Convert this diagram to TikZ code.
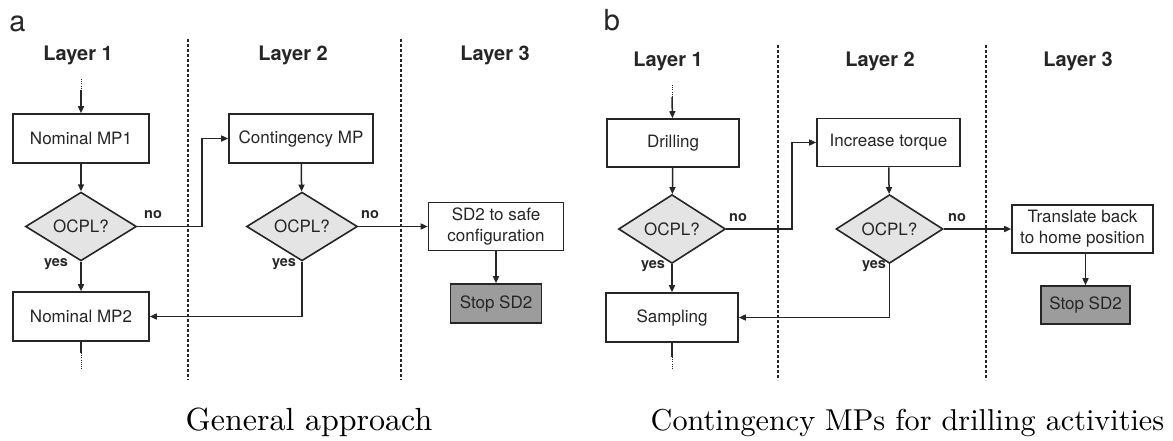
\documentclass[tikz,border=0pt]{standalone}
\usepackage{fontspec}
\newfontfamily\hv{TeX Gyre Heros}
\newfontfamily\capfont{lmroman10-regular}[Extension=.otf]
\usetikzlibrary{shapes.geometric,arrows.meta}
\definecolor{ink}{HTML}{262626}
\definecolor{dgray}{HTML}{E4E4E4}
\definecolor{sgray}{HTML}{9C9C9C}
\begin{document}
\begin{tikzpicture}[x=1pt,y=-1pt,
  every node/.style={text=ink},
  box/.style={draw=ink,line width=1.6pt,fill=white,inner sep=0pt,font=\hv\fontsize{17}{21}\selectfont,align=center},
  dec/.style={draw=ink,line width=1.6pt,fill=dgray,diamond,inner sep=0pt,font=\hv\fontsize{17}{21}\selectfont},
  stopbox/.style={box,fill=sgray},
  head/.style={font=\hv\bfseries\fontsize{20}{24}\selectfont},
  lab/.style={font=\hv\bfseries\fontsize{14.5}{17}\selectfont},
  panel/.style={font=\hv\fontsize{29}{33}\selectfont},
  captext/.style={font=\capfont\fontsize{32}{36}\selectfont,anchor=base,text=black},
  conn/.style={draw=ink,line width=1.5pt,-{Triangle[length=7pt,width=6pt]}},
  plain/.style={draw=ink,line width=1.5pt},
  fine/.style={draw=ink,line width=1pt,dash pattern=on 1pt off 1.2pt},
  sep/.style={draw=ink,line width=1.6pt,dash pattern=on 2.5pt off 2.5pt}]
\useasboundingbox (0,0) rectangle (1173,440);

% ---------------- panel a ----------------
\node[panel] (pa) at (17.5,23.5) {a};
\node[head] (la1) at (78,55) {Layer 1};
\node[head] (la2) at (293,55) {Layer 2};
\node[head] (la3) at (495,55) {Layer 3};
\coordinate (sa1t) at (188,39); \coordinate (sa1b) at (188,380);
\coordinate (sa2t) at (401,39); \coordinate (sa2b) at (401,380);
\draw[sep] (sa1t) -- (sa1b);
\draw[sep] (sa2t) -- (sa2b);

\node[box,minimum width=136pt,minimum height=49pt] (n1) at (81,138.5) {Nominal MP1};
\node[box,minimum width=144pt,minimum height=49pt] (c1) at (301,138.5) {Contingency MP};
\node[dec,minimum width=111pt,minimum height=60pt] (d1) at (81,226.5) {OCPL?};
\node[dec,minimum width=111pt,minimum height=60pt] (d2) at (302,226.5) {OCPL?};
\node[box,minimum width=136pt,minimum height=49pt] (n2) at (81,316.5) {Nominal MP2};
\node[box,minimum width=135pt,minimum height=48pt] (s1) at (496,226.5) {SD2 to safe\\configuration};
\node[stopbox,minimum width=91pt,minimum height=39pt] (st1) at (496,303.5) {Stop SD2};

\coordinate (ia0) at (81,79); \coordinate (ia1) at (81,90);
\draw[fine] (ia0) -- (ia1);
\draw[conn] (ia1) -- (n1);
\draw[conn] (n1) -- (d1);
\coordinate (ka) at (202,226.5);
\draw[conn] (d1.east) -- (ka) |- (c1.west);
\node[lab] (noa1) at (153,215) {no};
\draw[conn] (d1) -- (n2);
\node[lab] (yesa1) at (56,264) {yes};
\draw[conn] (c1) -- (d2);
\draw[conn] (d2) -- (s1);
\node[lab] (noa2) at (370,215) {no};
\draw[conn] (d2.south) |- (n2.east);
\node[lab] (yesa2) at (284,264) {yes};
\draw[conn] (s1) -- (st1);
\coordinate (oa1) at (81,353); \coordinate (oa2) at (81,370);
\draw[plain] (n2.south) -- (oa1);
\draw[fine] (oa1) -- (oa2);

\node[captext] (capa) at (309,430) {General approach};

% ---------------- panel b ----------------
\node[panel] (pb) at (612,20) {b};
\node[head] (lb1) at (668,61) {Layer 1};
\node[head] (lb2) at (880,61) {Layer 2};
\node[head] (lb3) at (1078,61) {Layer 3};
\coordinate (sb1t) at (778,45); \coordinate (sb1b) at (778,380);
\coordinate (sb2t) at (986,45); \coordinate (sb2b) at (986,380);
\draw[sep] (sb1t) -- (sb1b);
\draw[sep] (sb2t) -- (sb2b);

\node[box,minimum width=132pt,minimum height=48pt] (dr) at (673,143) {Drilling};
\node[box,minimum width=143pt,minimum height=48pt] (it) at (888.5,142.5) {Increase torque};
\node[dec,minimum width=107pt,minimum height=60pt] (d3) at (672,229) {OCPL?};
\node[dec,minimum width=107pt,minimum height=60pt] (d4) at (889.5,229) {OCPL?};
\node[box,minimum width=132pt,minimum height=49pt] (sa) at (672,317.5) {Sampling};
\node[box,minimum width=141pt,minimum height=48pt] (tr) at (1082.5,229) {Translate back\\to home position};
\node[stopbox,minimum width=89pt,minimum height=38pt] (st2) at (1085.5,305) {Stop SD2};

\coordinate (ib0) at (672,85); \coordinate (ib1) at (672,97);
\draw[fine] (ib0) -- (ib1);
\draw[conn] (ib1) -- (dr);
\draw[conn] (dr) -- (d3);
\coordinate (kb) at (792,229);
\draw[conn] (d3.east) -- (kb) |- (it.west);
\node[lab] (nob1) at (738,218) {no};
\draw[conn] (d3) -- (sa);
\node[lab] (yesb1) at (653,266) {yes};
\draw[conn] (it) -- (d4);
\draw[conn] (d4) -- (tr);
\node[lab] (nob2) at (957,218) {no};
\draw[conn] (d4.south) |- (sa.east);
\node[lab] (yesb2) at (874,266) {yes};
\draw[conn] (tr.south -| st2) -- (st2);
\coordinate (ob1) at (672,357); \coordinate (ob2) at (672,369);
\draw[plain] (sa.south) -- (ob1);
\draw[fine] (ob1) -- (ob2);

\node[captext,font=\capfont\fontsize{30.2}{34}\selectfont] (capb) at (907.5,430) {Contingency MPs for drilling activities};
\end{tikzpicture}
\end{document}
